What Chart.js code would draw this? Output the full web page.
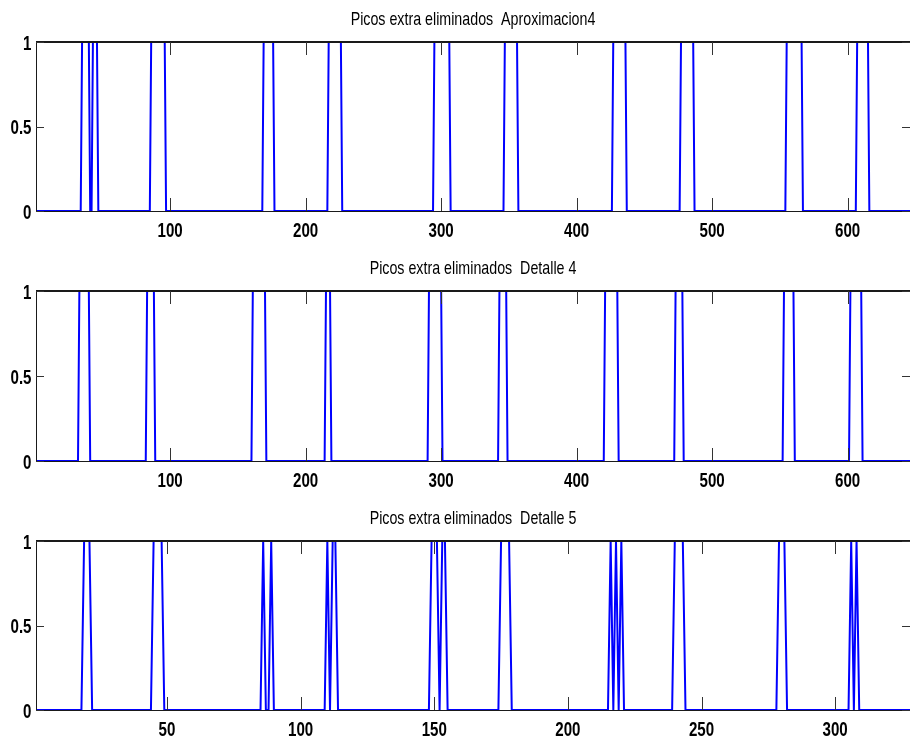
<!DOCTYPE html>
<html>
<head>
<meta charset="utf-8">
<title>Picos extra eliminados</title>
<script src="https://cdn.jsdelivr.net/npm/chart.js@4.4.1/dist/chart.umd.min.js"></script>
<style>
  body { margin: 0; background: #fff; }
  #contenedor { position: relative; width: 910px; height: 738px; }
  #contenedor canvas { position: absolute; left: 0; top: 0; }
</style>
</head>
<body>
<div id="contenedor">
  <canvas id="canvasaprox4" width="910" height="738"></canvas>
  <canvas id="canvasdet4" width="910" height="738"></canvas>
  <canvas id="canvasdet5" width="910" height="738"></canvas>
</div>
<script>
// picos: primera y ultima muestra en 1 de cada pulso
const aprox4N = 646;
const aprox4Inicio = [35, 43, 86, 169, 217, 295, 347, 427, 477, 555, 607];
const aprox4Fin    = [40, 46, 96, 176, 226, 306, 356, 436, 486, 566, 615];

const det4N = 646;
const det4Inicio = [33, 83, 161, 215, 291, 343, 421, 473, 553, 602];
const det4Fin    = [40, 88, 170, 218, 300, 348, 430, 478, 560, 610];

const det5N = 328;
const det5Inicio = [19, 45, 86, 89, 110, 112, 149, 153, 175, 216, 218, 220, 240, 279, 306, 308];
const det5Fin    = [21, 48, 86, 89, 110, 113, 151, 154, 178, 216, 218, 220, 243, 281, 306, 308];

// ticks
const ticksX650 = [100, 200, 300, 400, 500, 600];
const ticksX330 = [50, 100, 150, 200, 250, 300];
const ticksY = [0, 0.5, 1];
const ticksYTexto = ['0', '0.5', '1'];

// senal 0/1 a partir de los flancos
function puntos(n, inicio, fin) {
  var pts = [{x: 1, y: 0}];
  for (var i = 0; i < inicio.length; i++) {
    pts.push({x: inicio[i] - 1, y: 0});
    pts.push({x: inicio[i], y: 1});
    pts.push({x: fin[i], y: 1});
    pts.push({x: fin[i] + 1, y: 0});
  }
  pts.push({x: n, y: 0});
  return pts;
}

// texto estrecho (fuente comprimida en horizontal)
function texto(ctx, s, x, y, align, font, sx) {
  ctx.save();
  ctx.translate(x, y);
  ctx.scale(sx, 1);
  ctx.font = font;
  ctx.fillStyle = '#000';
  ctx.textAlign = align;
  ctx.textBaseline = 'alphabetic';
  ctx.fillText(s, 0, 0);
  ctx.restore();
}

// marco de ejes estilo matlab
const marco = {
  id: 'marco',
  beforeDatasetsDraw(chart) {
    const ctx = chart.ctx, a = chart.chartArea;
    ctx.save();
    ctx.strokeStyle = '#1a1a1a';
    ctx.lineWidth = 1;
    ctx.beginPath();
    ctx.moveTo(a.left, a.bottom + 0.5);
    ctx.lineTo(a.right, a.bottom + 0.5);
    ctx.stroke();
    ctx.restore();
  },
  afterDatasetsDraw(chart, args, opts) {
    const ctx = chart.ctx, a = chart.chartArea;
    const sx = chart.scales.x, sy = chart.scales.y;
    ctx.save();
    ctx.strokeStyle = '#1a1a1a';
    ctx.lineWidth = 2;
    ctx.beginPath();
    ctx.moveTo(a.left, a.top);
    ctx.lineTo(a.right, a.top);
    ctx.stroke();
    ctx.lineWidth = 1;
    ctx.beginPath();
    ctx.moveTo(a.left + 0.5, a.top);
    ctx.lineTo(a.left + 0.5, a.bottom + 1);
    ctx.stroke();

    ctx.strokeStyle = '#333';
    ctx.beginPath();
    opts.ticksX.forEach(function (v) {
      var px = Math.round(sx.getPixelForValue(v)) + 0.5;
      ctx.moveTo(px, a.bottom);
      ctx.lineTo(px, a.bottom - 13);
      ctx.moveTo(px, a.top);
      ctx.lineTo(px, a.top + 13);
    });
    ticksY.forEach(function (v) {
      var py = Math.round(sy.getPixelForValue(v)) + 0.5;
      ctx.moveTo(a.left, py);
      ctx.lineTo(a.left + 8, py);
      ctx.moveTo(a.right, py);
      ctx.lineTo(a.right - 8, py);
    });
    ctx.stroke();
    ctx.restore();

    var fuenteTick = 'bold 21px "Liberation Sans", Arial, sans-serif';
    opts.ticksX.forEach(function (v) {
      texto(ctx, String(v), sx.getPixelForValue(v), a.bottom + 25.5, 'center', fuenteTick, 0.72);
    });
    ticksY.forEach(function (v, i) {
      texto(ctx, ticksYTexto[i], a.left - 4.5, sy.getPixelForValue(v) + 7.5, 'right', fuenteTick, 0.72);
    });
    texto(ctx, opts.titulo, (a.left + a.right) / 2, a.top - 17.5, 'center',
      '19px "Liberation Sans", Arial, sans-serif', 0.75);
  }
};

function grafico(id, n, inicio, fin, ticksX, titulo, arriba, abajo) {
  const ctx = document.getElementById(id).getContext('2d');
  return new Chart(ctx, {
    type: 'line',
    data: {
      datasets: [{
        data: puntos(n, inicio, fin),
        borderColor: '#0000ff',
        backgroundColor: '#0000ff',
        borderWidth: 2,
        pointRadius: 0,
        fill: false
      }]
    },
    options: {
      responsive: false,
      animation: false,
      layout: { padding: { left: 36, right: 0, top: arriba, bottom: 738 - abajo } },
      plugins: {
        legend: { display: false },
        tooltip: { enabled: false },
        marco: { ticksX: ticksX, titulo: titulo }
      },
      elements: { line: { tension: 0 } },
      scales: {
        x: { type: 'linear', min: 1, max: n, display: false },
        y: { min: 0, max: 1, display: false }
      }
    },
    plugins: [marco]
  });
}

// grafico aproximacion 4
grafico('canvasaprox4', aprox4N, aprox4Inicio, aprox4Fin, ticksX650,
  'Picos extra eliminados  Aproximacion4', 42, 211);

// grafico detalle 4
grafico('canvasdet4', det4N, det4Inicio, det4Fin, ticksX650,
  'Picos extra eliminados  Detalle 4', 291, 461);

// grafico detalle 5
grafico('canvasdet5', det5N, det5Inicio, det5Fin, ticksX330,
  'Picos extra eliminados  Detalle 5', 541, 710);
</script>
</body>
</html>
